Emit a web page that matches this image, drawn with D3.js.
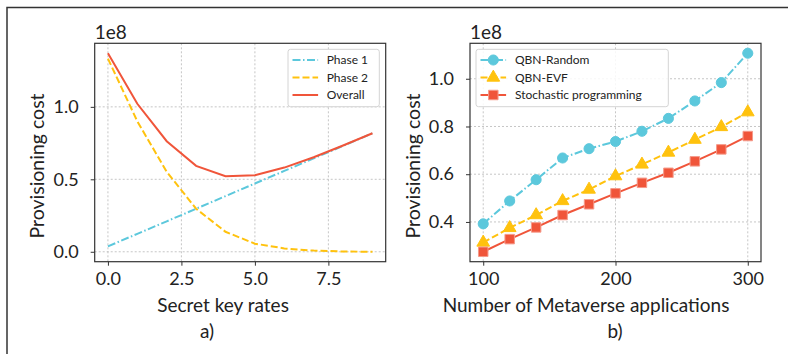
<!DOCTYPE html>
<html>
<head>
<meta charset="utf-8">
<script src="https://cdn.jsdelivr.net/npm/d3@7"></script>
<style>
  body { margin: 0; background: #fff; }
  svg { display: block; font-family: Lato, "Noto Sans", sans-serif; }
  .tick text { fill: #222; }
</style>
</head>
<body>
<div id="chart"></div>
<script>
// values in units of 1e8
const keyRates = [0, 1, 2, 3, 4, 5, 6, 7, 8, 9];
const phase1  = [0.037, 0.124, 0.210, 0.297, 0.384, 0.471, 0.558, 0.644, 0.731, 0.818];
const phase2  = [1.333, 0.900, 0.552, 0.297, 0.138, 0.056, 0.023, 0.008, 0.002, 0.000];
const overall = [1.370, 1.021, 0.763, 0.593, 0.521, 0.528, 0.581, 0.652, 0.733, 0.818];

const apps       = [100, 120, 140, 160, 180, 200, 220, 240, 260, 280, 300];
const qbnRandom  = [0.392, 0.488, 0.577, 0.668, 0.707, 0.737, 0.780, 0.834, 0.907, 0.984, 1.107];
const qbnEvf     = [0.314, 0.375, 0.429, 0.488, 0.536, 0.592, 0.641, 0.691, 0.745, 0.798, 0.860];
const stochastic = [0.275, 0.328, 0.377, 0.429, 0.474, 0.520, 0.564, 0.606, 0.654, 0.704, 0.760];

const leftXTicks  = [0, 2.5, 5, 7.5];
const leftYTicks  = [0, 0.5, 1.0];
const rightXTicks = [100, 200, 300];
const rightYTicks = [0.4, 0.6, 0.8, 1.0];

const cyan = "#5cc8dc", yellow = "#ffc20e", red = "#f0553a";

var W = 788, H = 354;
var svg = d3.select("#chart").append("svg")
    .attr("width", W)
    .attr("height", H);

// outer frame (left + top only visible)
svg.append("path")
    .attr("d", "M7,354 V7.5 H788")
    .attr("fill", "none")
    .attr("stroke", "#333")
    .attr("stroke-width", 1.5);

// pad domain by 5% like matplotlib
function padded(ext) {
  var m = (ext[1] - ext[0]) * 0.05;
  return [ext[0] - m, ext[1] + m];
}

function makePanel(opt) {
  var g = svg.append("g");
  var x = d3.scaleLinear().domain(padded(d3.extent(opt.xs))).range([opt.left, opt.right]);
  var allY = [].concat.apply([], opt.series.map(s => s.values));
  var y = d3.scaleLinear().domain(padded(d3.extent(allY))).range([opt.bottom, opt.top]);

  // grid
  g.selectAll(".gx").data(opt.xTicks).enter().append("line")
      .attr("x1", d => x(d)).attr("x2", d => x(d))
      .attr("y1", opt.top).attr("y2", opt.bottom)
      .attr("stroke", "#b8b8b8").attr("stroke-width", 0.8).attr("stroke-dasharray", "2,2");
  g.selectAll(".gy").data(opt.yTicks).enter().append("line")
      .attr("x1", opt.left).attr("x2", opt.right)
      .attr("y1", d => y(d)).attr("y2", d => y(d))
      .attr("stroke", "#b8b8b8").attr("stroke-width", 0.8).attr("stroke-dasharray", "2,2");

  // axes
  var xa = g.append("g")
      .attr("transform", "translate(0," + opt.bottom + ")")
      .call(d3.axisBottom(x).tickValues(opt.xTicks).tickFormat(opt.xFmt).tickSize(4).tickPadding(7));
  var ya = g.append("g")
      .attr("transform", "translate(" + opt.left + ",0)")
      .call(d3.axisLeft(y).tickValues(opt.yTicks).tickFormat(d3.format(".1f")).tickSize(4).tickPadding(12));
  [xa, ya].forEach(a => {
    a.select(".domain").remove();
    a.selectAll("line").attr("stroke", "#333");
    a.selectAll("text").style("font-size", "18px").style("font-family", "Lato");
  });

  // lines + markers
  opt.series.forEach(s => {
    var line = d3.line().x((d, i) => x(opt.xs[i])).y(d => y(d));
    g.append("path")
        .datum(s.values)
        .attr("d", line)
        .attr("fill", "none")
        .attr("stroke", s.color)
        .attr("stroke-width", 2)
        .attr("stroke-dasharray", s.dash);
    if (s.marker) {
      var sym = d3.symbol().type(s.marker).size(s.msize);
      g.selectAll(null).data(s.values).enter().append("path")
          .attr("d", sym)
          .attr("transform", (d, i) => "translate(" + x(opt.xs[i]) + "," + y(d) + ")")
          .attr("fill", s.color)
          .attr("stroke", s.edge || s.color)
          .attr("stroke-width", 1);
    }
  });

  // frame
  g.append("rect")
      .attr("x", opt.left).attr("y", opt.top)
      .attr("width", opt.right - opt.left).attr("height", opt.bottom - opt.top)
      .attr("fill", "none").attr("stroke", "#333").attr("stroke-width", 1.2);

  // 1e8 offset
  g.append("text")
      .attr("x", opt.left).attr("y", opt.top - 4)
      .style("font-size", "19px").attr("fill", "#222")
      .text("1e8");

  // axis titles
  g.append("text")
      .attr("x", opt.xLabelX).attr("y", 312)
      .attr("text-anchor", "middle")
      .style("font-size", "19px").attr("fill", "#222")
      .text(opt.xLabel);
  g.append("text")
      .attr("transform", "translate(" + opt.yLabelX + ",166) rotate(-90)")
      .attr("text-anchor", "middle")
      .style("font-size", "19.5px").attr("fill", "#222")
      .text("Provisioning cost");
  g.append("text")
      .attr("x", opt.capX).attr("y", 338)
      .attr("text-anchor", "middle")
      .style("font-size", "19px").attr("fill", "#222")
      .text(opt.caption);

  // legend
  var lg = g.append("g");
  lg.append("rect")
      .attr("x", opt.legend.x).attr("y", 49.3)
      .attr("width", opt.legend.w).attr("height", 57.4)
      .attr("rx", 2.5)
      .attr("fill", "#fff").attr("fill-opacity", 0.85)
      .attr("stroke", "#d4d4d4").attr("stroke-width", 1);
  opt.series.forEach((s, i) => {
    var ly = 60 + i * 17.5;
    var x0 = opt.legend.x + 4.5;
    lg.append("line")
        .attr("x1", x0).attr("x2", x0 + 25.6)
        .attr("y1", ly).attr("y2", ly)
        .attr("stroke", s.color).attr("stroke-width", 2)
        .attr("stroke-dasharray", s.dash);
    if (s.marker) {
      lg.append("path")
          .attr("d", d3.symbol().type(s.marker).size(s.msize))
          .attr("transform", "translate(" + (x0 + 12.8) + "," + ly + ")")
          .attr("fill", s.color).attr("stroke", s.edge || s.color).attr("stroke-width", 1);
    }
    lg.append("text")
        .attr("x", opt.legend.x + opt.legend.tx).attr("y", ly + 4.2)
        .style("font-size", "12px").attr("fill", "#222")
        .text(s.name);
  });
}

makePanel({
  left: 94.7, right: 385.7, top: 43.3, bottom: 261.7,
  xs: keyRates,
  xTicks: leftXTicks, yTicks: leftYTicks,
  xFmt: d3.format(".1f"),
  xLabel: "Secret key rates", xLabelX: 223, yLabelX: 44, capX: 207, caption: "a)",
  legend: { x: 288, w: 91.3, tx: 38.7 },
  series: [
    { name: "Phase 1", values: phase1, color: cyan, dash: "8,2.5,1.5,2.5" },
    { name: "Phase 2", values: phase2, color: yellow, dash: "7,3" },
    { name: "Overall", values: overall, color: red, dash: null }
  ]
});

makePanel({
  left: 470, right: 761, top: 43.3, bottom: 261.7,
  xs: apps,
  xTicks: rightXTicks, yTicks: rightYTicks,
  xFmt: d3.format("d"),
  xLabel: "Number of Metaverse applications", xLabelX: 586, yLabelX: 420, capX: 615, caption: "b)",
  legend: { x: 476, w: 192.3, tx: 39 },
  series: [
    { name: "QBN-Random", values: qbnRandom, color: cyan, dash: "8,2.5,1.5,2.5", marker: d3.symbolCircle, msize: 80 },
    { name: "QBN-EVF", values: qbnEvf, color: yellow, dash: "7,3", marker: d3.symbolTriangle, msize: 70 },
    { name: "Stochastic programming", values: stochastic, color: red, dash: null, marker: d3.symbolSquare, msize: 90, edge: "#f59a8a" }
  ]
});
</script>
</body>
</html>
